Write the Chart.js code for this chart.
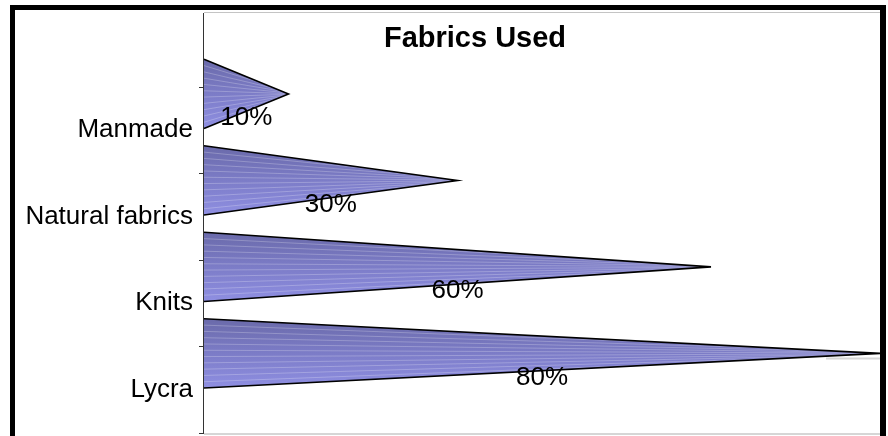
<!DOCTYPE html>
<html>
<head>
<meta charset="utf-8">
<title>Fabrics Used</title>
<script src="https://cdn.jsdelivr.net/npm/chart.js@4.4.1/dist/chart.umd.min.js"></script>
<style>
    html, body { margin: 0; padding: 0; background: #fff; }
    canvas { display: block; }
</style>
</head>
<body>
<canvas id="fabricsChart" width="888" height="436"></canvas>
<script>
// ====== DATA ======
const categories = ["Manmade", "Natural fabrics", "Knits", "Lycra"];
const usedPercent = [10, 30, 60, 80];
const chartTitle = "Fabrics Used";

const FONT = "'Liberation Sans', Arial, sans-serif";

// ====== CONES (triangles drawn from each bar's geometry) ======
const conePlugin = {
    id: "cones",
    afterDatasetsDraw(chart) {
        const ctx = chart.ctx;
        const yScale = chart.scales.y;
        const band = (yScale.bottom - yScale.top) / categories.length;
        const depth = band * 0.42; // 3d shift up
        chart.getDatasetMeta(0).data.forEach((bar) => {
            const { x, y, base, height } = bar.getProps(["x", "y", "base", "height"], true);
            const cy = y - depth;
            const top = cy - height / 2;
            const bottom = cy + height / 2;

            ctx.save();
            ctx.beginPath();
            ctx.moveTo(base, top);
            ctx.lineTo(x, cy);
            ctx.lineTo(base, bottom);
            ctx.closePath();
            const grad = ctx.createLinearGradient(0, top, 0, bottom);
            grad.addColorStop(0, "#6a6aaa");
            grad.addColorStop(0.55, "#7e7eca");
            grad.addColorStop(1, "#8f8fe2");
            ctx.fillStyle = grad;
            ctx.fill();

            // light streaks
            ctx.save();
            ctx.clip();
            ctx.strokeStyle = "rgba(255,255,255,0.24)";
            ctx.lineWidth = 1;
            const n = 11;
            for (let k = 1; k < n; k++) {
                const sy = top + k * height / n;
                ctx.beginPath();
                ctx.moveTo(base, sy);
                ctx.lineTo(x, cy + (sy - cy) * 0.1);
                ctx.stroke();
            }
            ctx.restore();

            ctx.beginPath();
            ctx.moveTo(base, top);
            ctx.lineTo(x, cy);
            ctx.lineTo(base, bottom);
            ctx.lineWidth = 1.6;
            ctx.strokeStyle = "#000";
            ctx.stroke();
            ctx.restore();
        });

        // value labels
        ctx.save();
        ctx.font = "26px " + FONT;
        ctx.fillStyle = "#000";
        ctx.textAlign = "center";
        ctx.textBaseline = "middle";
        chart.getDatasetMeta(0).data.forEach((bar, i) => {
            const { x, y, base } = bar.getProps(["x", "y", "base"], true);
            ctx.fillText(usedPercent[i] + "%", (base + x) / 2, y - 12);
        });
        ctx.restore();
    }
};

// ====== FRAME / WALLS / TITLE ======
const framePlugin = {
    id: "frame",
    beforeDatasetsDraw(chart) {
        const ctx = chart.ctx;
        const a = chart.chartArea;
        ctx.save();
        ctx.strokeStyle = "#c4c4c4";
        ctx.lineWidth = 1;
        ctx.beginPath();
        ctx.moveTo(a.left, 12.5);
        ctx.lineTo(a.right, 12.5);
        ctx.stroke();
        ctx.strokeStyle = "#d6d6d6";
        ctx.lineWidth = 2;
        ctx.beginPath();
        ctx.moveTo(a.left, a.bottom + 1);
        ctx.lineTo(a.right, a.bottom + 1);
        ctx.moveTo(826, 358.5);
        ctx.lineTo(a.right, 358.5);
        ctx.stroke();
        // category axis line (extends up into the 3d depth)
        ctx.strokeStyle = "#333";
        ctx.lineWidth = 1;
        ctx.beginPath();
        ctx.moveTo(a.left - 0.5, 13);
        ctx.lineTo(a.left - 0.5, a.bottom + 1);
        ctx.stroke();

        ctx.font = "bold 29px " + FONT;
        ctx.fillStyle = "#000";
        ctx.textAlign = "center";
        ctx.textBaseline = "middle";
        ctx.fillText(chartTitle, 475, 39);
        ctx.restore();
    },
    afterDraw(chart) {
        const ctx = chart.ctx;
        ctx.save();
        ctx.fillStyle = "#000";
        ctx.fillRect(10, 5, 876, 5);
        ctx.fillRect(10, 5, 5, 431);
        ctx.fillRect(880, 5, 6, 431);
        ctx.restore();
    }
};

// ====== CHART ======
document.addEventListener("DOMContentLoaded", () => {
    new Chart(document.getElementById("fabricsChart"), {
        type: "bar",
        data: {
            labels: categories,
            datasets: [{
                data: usedPercent,
                backgroundColor: "rgba(0,0,0,0)",
                borderWidth: 0,
                barPercentage: 0.8,
                categoryPercentage: 1.0
            }]
        },
        options: {
            indexAxis: "y",
            responsive: false,
            animation: false,
            devicePixelRatio: 1,
            layout: { padding: { left: 15, right: 8, top: 87, bottom: 3 } },
            plugins: {
                legend: { display: false },
                tooltip: { enabled: false },
                title: { display: false }
            },
            scales: {
                x: {
                    display: false,
                    min: 0,
                    max: 80
                },
                y: {
                    offset: true,
                    border: { display: false },
                    grid: {
                        offset: true,
                        drawOnChartArea: false,
                        drawTicks: true,
                        tickLength: 5,
                        color: "#333"
                    },
                    ticks: {
                        color: "#000",
                        padding: 6,
                        autoSkip: false,
                        font: { family: FONT, size: 26 }
                    },
                    afterFit(scale) {
                        scale.width = 189;
                        scale.paddingTop = 0;
                        scale.paddingBottom = 0;
                    }
                }
            }
        },
        plugins: [framePlugin, conePlugin]
    });
});
</script>
</body>
</html>
